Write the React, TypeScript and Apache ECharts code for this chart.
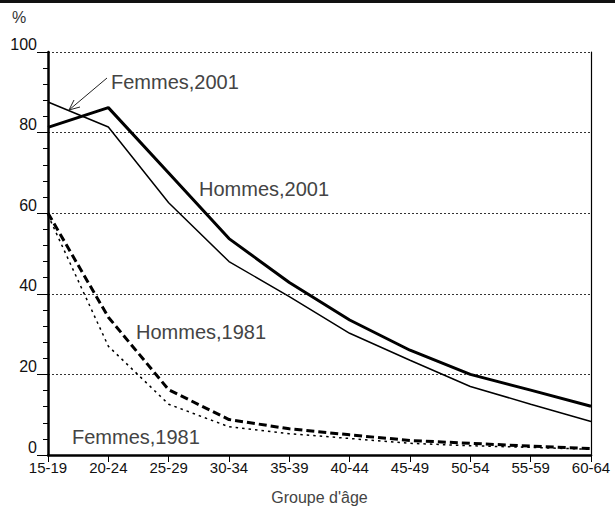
import React, { useEffect, useRef } from "react";
import * as echarts from "echarts";

const categories = ["15-19", "20-24", "25-29", "30-34", "35-39", "40-44", "45-49", "50-54", "55-59", "60-64"];
const hommes2001 = [81.3, 86.2, 70.0, 53.7, 42.8, 33.5, 26.0, 20.0, 16.1, 12.1];
const femmes2001 = [87.6, 81.4, 62.6, 48.0, 39.3, 30.2, 23.5, 17.0, 12.6, 8.3];
const hommes1981 = [60.0, 34.2, 16.2, 8.8, 6.5, 5.0, 3.6, 2.9, 2.2, 1.6];
const femmes1981 = [59.5, 27.0, 12.6, 7.0, 5.3, 4.1, 2.9, 2.3, 1.9, 1.4];
const yTicks = [0, 20, 40, 60, 80, 100];

const FONT = "Liberation Sans, Arial, sans-serif";

export default function App() {
  const ref = useRef<HTMLDivElement>(null);
  useEffect(() => {
    if (!ref.current) return;
    const chart = echarts.init(ref.current, null, { renderer: "svg" });
    const annot = (text: string, x: number, y: number) => ({
      type: "text",
      left: x,
      top: y,
      style: { text, fill: "#444", font: `20px ${FONT}` },
    });
    chart.setOption({
      animation: false,
      backgroundColor: "#fff",
      grid: { left: 48, right: 24, top: 52, bottom: 51, containLabel: false, outerBoundsMode: "none" },
      xAxis: {
        type: "category",
        data: categories,
        boundaryGap: false,
        axisLine: { show: true, lineStyle: { color: "#000", width: 2.5 } },
        axisTick: { show: true, alignWithLabel: true, length: 7, inside: false, lineStyle: { color: "#000", width: 1 } },
        axisLabel: { color: "#111", fontSize: 15, fontFamily: FONT, margin: 5, interval: 0 },
        splitLine: { show: false },
        name: "Groupe d'âge",
        nameLocation: "middle",
        nameGap: 34,
        nameTextStyle: { color: "#444", fontSize: 16, fontFamily: FONT },
      },
      yAxis: [
        {
          type: "value",
          min: yTicks[0],
          max: yTicks[yTicks.length - 1],
          interval: 20,
          axisLine: { show: true, lineStyle: { color: "#000", width: 2.5 } },
          axisTick: { show: true, length: 11, lineStyle: { color: "#000", width: 1 } },
          minorTick: { show: true, splitNumber: 5, length: 5, lineStyle: { color: "#000", width: 1 } },
          axisLabel: { color: "#111", fontSize: 16, fontFamily: FONT, margin: 11, verticalAlign: "bottom" },
          splitLine: { show: true, lineStyle: { color: "#333", width: 1, type: [2, 2] } },
        },
        {
          type: "value",
          position: "right",
          min: 0,
          max: 100,
          interval: 20,
          axisLine: { show: true, lineStyle: { color: "#000", width: 1.2 } },
          axisTick: { show: false },
          axisLabel: { show: false },
          splitLine: { show: false },
        },
      ],
      series: [
        {
          name: "Hommes,2001",
          type: "line",
          data: hommes2001,
          symbol: "none",
          lineStyle: { color: "#000", width: 3 },
        },
        {
          name: "Femmes,2001",
          type: "line",
          data: femmes2001,
          symbol: "none",
          lineStyle: { color: "#000", width: 1.5 },
        },
        {
          name: "Hommes,1981",
          type: "line",
          data: hommes1981,
          symbol: "none",
          lineStyle: { color: "#000", width: 3, type: [8, 4] },
        },
        {
          name: "Femmes,1981",
          type: "line",
          data: femmes1981,
          symbol: "none",
          lineStyle: { color: "#000", width: 1.5, type: [2.5, 4] },
        },
      ],
      graphic: [
        { type: "rect", shape: { x: 0, y: 0, width: 615, height: 3 }, style: { fill: "#111" } },
        { type: "text", left: 12, top: 9, style: { text: "%", fill: "#333", font: `16px ${FONT}` } },
        annot("Femmes,2001", 111, 72),
        annot("Hommes,2001", 199, 179),
        annot("Hommes,1981", 136, 322),
        annot("Femmes,1981", 72, 427),
        { type: "line", shape: { x1: 107, y1: 78, x2: 69, y2: 110 }, style: { stroke: "#222", lineWidth: 1 } },
        {
          type: "polyline",
          shape: { points: [[74, 100], [69, 110], [80, 107]] },
          style: { stroke: "#222", lineWidth: 1, fill: null },
        },
      ],
    });
    return () => chart.dispose();
  }, []);
  return (
    <div
      ref={ref}
      style={{ position: "fixed", left: 0, top: 0, width: 615, height: 506 }}
    />
  );
}
